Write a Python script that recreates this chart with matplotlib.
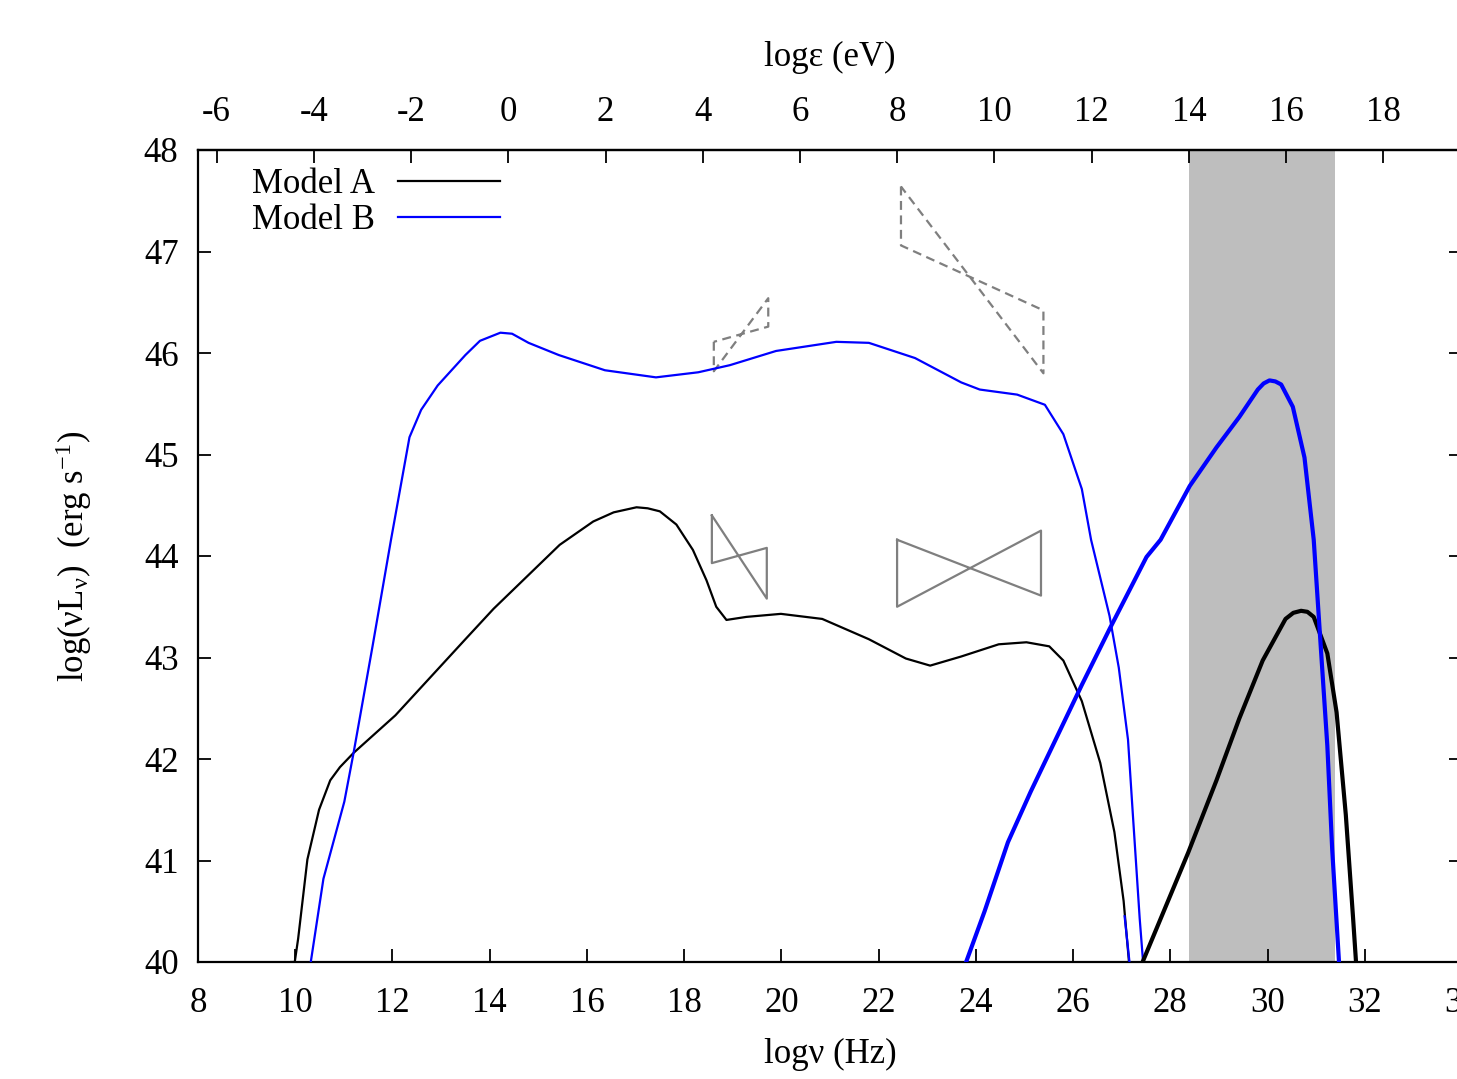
import numpy as np
import matplotlib
matplotlib.use("Agg")
import matplotlib.pyplot as plt

plt.rcParams['font.family'] = ['Liberation Serif', 'DejaVu Serif']
plt.rcParams['mathtext.fontset'] = 'custom'
plt.rcParams['mathtext.rm'] = 'Liberation Serif'
plt.rcParams['mathtext.it'] = 'Liberation Serif:italic'
plt.rcParams['axes.unicode_minus'] = False

# 数据 (log nu [Hz], log nuL_nu [erg/s])
a_low_x = [9.92, 9.99, 10.06, 10.25, 10.49, 10.72, 10.92, 11.20, 12.06, 13.50, 14.08, 15.44,
           16.13, 16.55, 17.02, 17.25, 17.50, 17.84, 18.18, 18.46, 18.66, 18.87, 19.28,
           19.99, 20.84, 21.80, 22.56, 23.06, 23.70, 24.47, 25.04, 25.51, 25.80, 26.18,
           26.56, 26.85, 27.04, 27.15]
a_low_y = [40.0, 40.0, 40.23, 41.01, 41.50, 41.79, 41.92, 42.06, 42.43, 43.18, 43.48, 44.11,
           44.34, 44.43, 44.48, 44.47, 44.44, 44.31, 44.06, 43.76, 43.50, 43.37, 43.40,
           43.43, 43.38, 43.18, 42.99, 42.92, 43.01, 43.13, 43.15, 43.11, 42.97, 42.57,
           41.96, 41.28, 40.60, 40.0]

b_low_x = [10.32, 10.58, 11.01, 11.20, 11.59, 11.97, 12.35, 12.59, 12.93, 13.50, 13.80,
           14.22, 14.46, 14.80, 15.42, 16.37, 17.42, 18.29, 18.94, 19.89, 21.13, 21.80,
           22.75, 23.70, 24.08, 24.85, 25.42, 25.80, 26.18, 26.37, 26.75, 26.94, 27.13,
           27.23, 27.37, 27.44]
b_low_y = [40.0, 40.82, 41.58, 42.06, 43.11, 44.16, 45.17, 45.44, 45.68, 45.98, 46.12,
           46.20, 46.19, 46.10, 45.98, 45.83, 45.76, 45.81, 45.88, 46.02, 46.11, 46.10,
           45.95, 45.71, 45.64, 45.59, 45.49, 45.20, 44.66, 44.16, 43.41, 42.90, 42.19,
           41.45, 40.43, 40.0]

b_tail_x = [27.06, 27.16]
b_tail_y = [40.45, 40.0]

a_high_x = [27.43, 28.37, 28.95, 29.42, 29.90, 30.37, 30.53, 30.69, 30.82, 30.95, 31.23,
            31.42, 31.61, 31.76, 31.82]
a_high_y = [40.0, 41.08, 41.79, 42.40, 42.97, 43.38, 43.44, 43.46, 43.45, 43.40, 43.04,
            42.46, 41.45, 40.43, 40.0]

b_high_x = [23.80, 24.18, 24.66, 25.13, 25.61, 26.18, 26.75, 27.51, 27.80, 28.40, 28.95,
            29.42, 29.80, 29.92, 30.04, 30.16, 30.28, 30.52, 30.76, 30.95, 31.09, 31.23,
            31.33, 31.47]
b_high_y = [40.0, 40.50, 41.18, 41.68, 42.16, 42.73, 43.28, 43.99, 44.16, 44.69, 45.07,
            45.37, 45.64, 45.70, 45.73, 45.72, 45.69, 45.47, 44.97, 44.16, 43.14, 42.13,
            41.11, 40.0]

# bowtie: (x_left, x_right, y_left_top, y_left_bot, y_right_top, y_right_bot)
bowties_solid = [(18.57, 19.70, 44.40, 43.93, 44.08, 43.58),
                 (22.38, 25.34, 44.16, 43.50, 44.25, 43.61)]
bowties_dashed = [(18.61, 19.73, 46.11, 45.82, 46.54, 46.26),
                  (22.46, 25.39, 47.64, 47.06, 46.42, 45.80)]

shade_ev = (14, 17)
log_hz_per_ev = 14.3835

fs = 25

fig = plt.figure(figsize=(14.57, 10.79), dpi=100)
ax = fig.add_axes([198/1457, 117/1079, 1264/1457, 812/1079])

ax.axvspan(shade_ev[0] + log_hz_per_ev, shade_ev[1] + log_hz_per_ev,
           color='#bebebe', lw=0, zorder=0)

def bowtie(ax, bt, ls):
    xl, xr, ylt, ylb, yrt, yrb = bt
    xs = [xl, xl, xr, xr, xl]
    ys = [ylt, ylb, yrt, yrb, ylt]
    ax.plot(xs, ys, color='#7f7f7f', lw=1.6, ls=ls, zorder=2)

for bt in bowties_solid:
    bowtie(ax, bt, '-')
for bt in bowties_dashed:
    bowtie(ax, bt, (0, (4, 2.5)))

ax.plot(a_low_x, a_low_y, color='black', lw=1.6, label='Model A', zorder=3)
ax.plot(b_low_x, b_low_y, color='#0000ff', lw=1.6, label='Model B', zorder=3)
ax.plot(b_tail_x, b_tail_y, color='#0000ff', lw=1.6, zorder=4)
ax.plot(a_high_x, a_high_y, color='black', lw=3.0, zorder=3)
ax.plot(b_high_x, b_high_y, color='#0000ff', lw=3.0, zorder=3)

ax.set_xlim(8, 34)
ax.set_ylim(40, 48)
ax.set_xticks(np.arange(8, 35, 2))
ax.set_yticks(np.arange(40, 49, 1))
ax.tick_params(axis='both', direction='in', length=9.5, width=1.3, labelsize=fs,
               top=False, right=True)
ax.tick_params(axis='x', pad=18)
ax.tick_params(axis='y', pad=14)
for s in ax.spines.values():
    s.set_linewidth(1.6)

secax = ax.secondary_xaxis('top', functions=(lambda x: x - log_hz_per_ev,
                                             lambda e: e + log_hz_per_ev))
secax.set_xticks(np.arange(-6, 19, 2))
secax.tick_params(direction='in', length=9.5, width=1.3, labelsize=fs, pad=15)
secax.spines['top'].set_linewidth(1.6)
secax.set_xlabel('logε (eV)', fontsize=fs, labelpad=22)

ax.set_xlabel('logν (Hz)', fontsize=fs, labelpad=13)
ax.set_ylabel(r'log(ν$\mathrm{L_{ν}}$)  (erg s$^{\mathrm{-1}}$)', fontsize=fs, labelpad=36)

ax.legend(loc='upper left', bbox_to_anchor=(0.043, 0.978), frameon=False,
          markerfirst=False, fontsize=fs, handlelength=2.95, handletextpad=0.65,
          labelspacing=0.1, borderpad=0, borderaxespad=0)

fig.savefig('out.png', dpi=100)
